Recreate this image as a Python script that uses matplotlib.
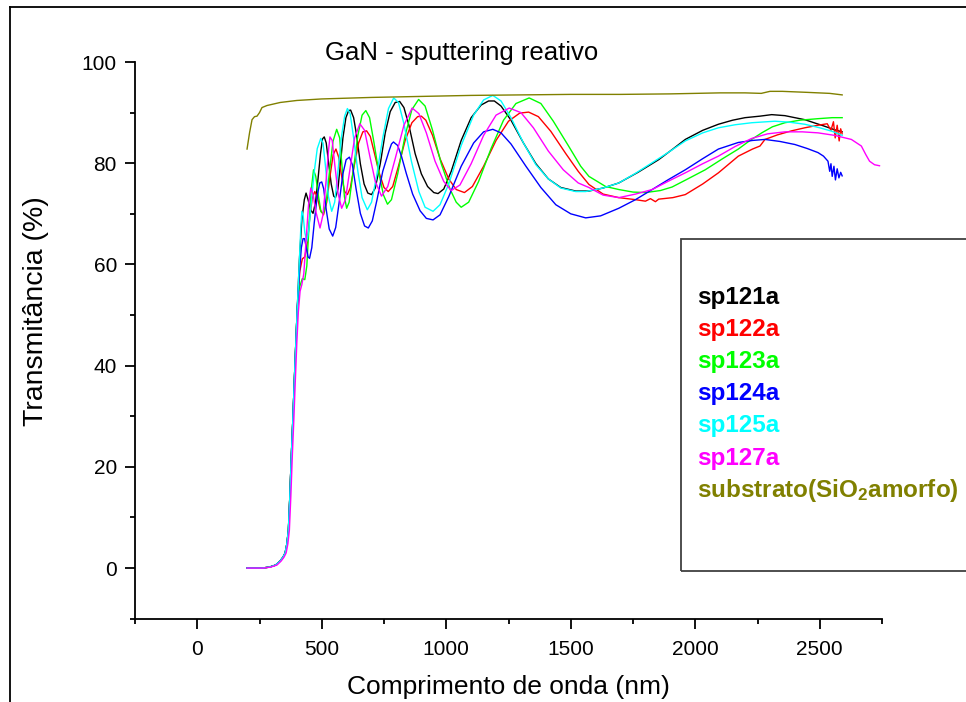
import numpy as np
import matplotlib
matplotlib.use("Agg")
import matplotlib.pyplot as plt
from matplotlib.ticker import MultipleLocator
from matplotlib.patches import Rectangle
from matplotlib.lines import Line2D

plt.rcParams["font.family"] = ["Liberation Sans", "DejaVu Sans"]
plt.rcParams["mathtext.fontset"] = "custom"
plt.rcParams["mathtext.rm"] = "Liberation Sans:bold"
plt.rcParams["mathtext.default"] = "rm"

# absorption edge, shared by the films (wavelength nm, transmittance %)
rise = [(200, 0), (260, 0), (290, 0.2), (315, 0.6), (333, 1.4), (345, 2.2), (353, 3.0),
        (360, 4.8), (366, 7.5), (372, 14.3), (378, 22.4), (384, 29.4), (390, 37.2), (396, 44.6),
        (402, 51.6)]

sp121a = rise + [
    (410, 60.7), (420, 68.8), (430, 72.8), (437, 74.1), (445, 72.8), (455, 70.8), (465, 70.1),
    (475, 72.3), (485, 76.9), (495, 81.9), (503, 84.8), (510, 85.2), (518, 84.0), (528, 79.9),
    (538, 75.9), (548, 73.5), (555, 73.2), (565, 74.9), (575, 79.9), (585, 85.0), (597, 89.0),
    (608, 90.4), (616, 90.5), (628, 89.0), (640, 85.5), (655, 79.9), (670, 75.9), (685, 74.1),
    (700, 73.8), (715, 75.1), (735, 79.9), (755, 86.0), (775, 90.2), (795, 92.0), (813, 92.2),
    (830, 91.0), (850, 87.5), (875, 81.9), (900, 77.9), (925, 75.4), (950, 74.2), (967, 74.0),
    (990, 74.9), (1020, 78.4), (1060, 84.5), (1100, 89.0), (1140, 91.5), (1170, 92.3),
    (1193, 92.3), (1220, 91.3), (1260, 88.5), (1310, 84.0), (1360, 79.9), (1410, 76.9),
    (1460, 75.2), (1520, 74.5), (1573, 74.5), (1630, 75.1), (1693, 76.1), (1770, 78.2),
    (1853, 80.7), (1910, 82.8), (1960, 84.7), (2030, 86.5), (2093, 87.7), (2150, 88.5),
    (2200, 89.0), (2260, 89.3), (2307, 89.6), (2360, 89.4), (2440, 88.6), (2520, 87.3),
    (2560, 86.6), (2590, 86.2)]

sp122a = rise + [
    (412, 58.7), (422, 61.1), (432, 61.5), (442, 64.3), (452, 69.3), (462, 73.2), (472, 74.4),
    (482, 73.4), (494, 70.8), (507, 69.8), (520, 72.3), (533, 77.4), (546, 81.7), (557, 82.8),
    (568, 81.2), (580, 77.4), (592, 74.4), (603, 73.8), (615, 75.2), (630, 79.4), (648, 84.0),
    (665, 86.2), (680, 86.4), (695, 85.3), (712, 81.9), (730, 78.2), (750, 75.2), (767, 74.4),
    (785, 75.4), (808, 79.4), (835, 84.5), (862, 88.0), (885, 89.2), (900, 89.3), (918, 88.5),
    (945, 85.5), (975, 80.9), (1010, 76.9), (1040, 74.8), (1073, 74.2), (1105, 75.4),
    (1150, 79.4), (1200, 84.5), (1250, 88.3), (1295, 89.9), (1331, 90.1), (1370, 89.2),
    (1420, 86.3), (1480, 81.9), (1530, 78.4), (1573, 75.8), (1630, 73.9), (1693, 73.2),
    (1760, 72.8), (1800, 72.5), (1820, 73.0), (1840, 72.4), (1853, 72.9), (1910, 73.2),
    (1960, 73.8), (2030, 75.9), (2093, 78.1), (2173, 81.4), (2230, 82.8), (2260, 83.4),
    (2280, 84.7), (2330, 85.6), (2387, 86.4), (2440, 87.0), (2493, 87.5), (2530, 87.8),
    (2545, 86.5), (2555, 88.2), (2562, 85.0), (2570, 87.5), (2578, 84.4), (2584, 86.8),
    (2590, 85.8)]

sp123a = rise + [
    (412, 55.7), (422, 57.2), (432, 57.0), (440, 59.7), (448, 66.8), (457, 74.4), (467, 78.7),
    (476, 77.4), (487, 73.4), (497, 70.4), (507, 70.1), (518, 72.3), (530, 77.9), (545, 84.3),
    (560, 86.7), (572, 85.0), (583, 78.4), (591, 73.4), (600, 71.1), (610, 72.3), (625, 77.9),
    (645, 85.5), (662, 89.5), (677, 90.4), (692, 89.0), (710, 84.0), (730, 77.9), (748, 73.7),
    (764, 71.9), (780, 72.8), (805, 77.9), (835, 85.5), (862, 90.6), (889, 92.6), (915, 91.3),
    (945, 86.5), (980, 79.9), (1015, 74.9), (1040, 72.3), (1060, 71.3), (1090, 72.3),
    (1130, 76.4), (1180, 82.9), (1230, 88.5), (1280, 91.8), (1333, 92.9), (1380, 91.8),
    (1430, 88.3), (1490, 83.5), (1540, 79.4), (1573, 77.4), (1640, 75.4), (1693, 74.8),
    (1750, 74.3), (1800, 74.2), (1860, 74.6), (1907, 75.3), (1970, 76.9), (2040, 78.7),
    (2110, 80.9), (2173, 82.8), (2220, 84.5), (2267, 86.0), (2310, 87.2), (2360, 88.0),
    (2420, 88.5), (2493, 88.8), (2550, 89.0), (2590, 89.0)]

sp124a = rise + [
    (410, 58.2), (418, 63.3), (425, 65.1), (431, 65.1), (438, 63.3), (445, 61.5), (451, 61.2),
    (460, 63.3), (470, 68.3), (482, 73.7), (492, 76.1), (500, 76.3), (508, 74.9), (518, 70.8),
    (530, 67.0), (544, 65.6), (556, 67.3), (570, 72.3), (585, 77.9), (598, 80.7), (611, 81.2),
    (623, 79.7), (638, 74.9), (655, 70.1), (672, 67.6), (687, 67.2), (703, 68.6), (722, 72.8),
    (745, 78.4), (770, 82.4), (780, 83.8), (788, 84.2), (795, 83.9), (805, 83.5), (820, 81.4),
    (840, 77.9), (865, 73.9), (895, 70.6), (920, 69.1), (947, 68.8), (975, 69.8), (1010, 73.4),
    (1060, 79.4), (1110, 84.0), (1150, 86.2), (1187, 86.7), (1220, 86.0), (1260, 83.8),
    (1320, 79.4), (1380, 75.2), (1440, 71.8), (1500, 70.0), (1560, 69.2), (1620, 69.6),
    (1693, 71.1), (1760, 72.8), (1827, 74.8), (1890, 76.7), (1960, 78.7), (2030, 80.9),
    (2093, 82.8), (2173, 84.1), (2230, 84.5), (2280, 84.7), (2340, 84.3), (2400, 83.7),
    (2450, 82.9), (2493, 82.1), (2515, 81.4), (2533, 80.4), (2540, 78.4), (2545, 79.9),
    (2550, 77.4), (2557, 79.4), (2563, 76.7), (2570, 78.9), (2577, 77.1), (2584, 78.2),
    (2590, 77.5)]

sp125a = rise + [
    (410, 60.7), (416, 67.3), (420, 70.5), (425, 69.8), (432, 66.3), (440, 64.6), (448, 66.8),
    (458, 72.3), (470, 78.4), (482, 82.9), (496, 84.9), (505, 84.0), (515, 79.4), (527, 73.4),
    (540, 70.5), (552, 72.3), (565, 78.4), (580, 85.5), (592, 89.3), (603, 90.8), (614, 89.8),
    (628, 85.0), (645, 78.4), (662, 73.2), (683, 70.8), (700, 72.3), (720, 77.4), (745, 85.0),
    (768, 90.8), (789, 92.9), (808, 92.0), (830, 87.8), (860, 80.4), (890, 74.4), (915, 71.3),
    (947, 70.5), (975, 71.8), (1010, 75.9), (1060, 83.5), (1110, 89.5), (1150, 92.5),
    (1187, 93.4), (1220, 92.3), (1260, 89.0), (1310, 84.0), (1360, 79.7), (1410, 76.9),
    (1460, 75.1), (1520, 74.4), (1560, 74.4), (1630, 75.1), (1693, 76.1), (1760, 78.0),
    (1827, 80.1), (1900, 82.4), (1960, 84.4), (2030, 86.0), (2093, 87.0), (2160, 87.6),
    (2227, 88.0), (2320, 88.3), (2380, 88.1), (2440, 87.7), (2500, 87.0), (2550, 86.3),
    (2590, 85.5)]

sp127a = [
    (200, 0), (265, 0), (295, 0.2), (320, 0.6), (337, 1.4), (349, 2.2), (357, 3.0), (364, 4.8),
    (370, 7.5), (376, 14.3), (382, 22.4), (388, 29.4), (394, 37.2), (400, 44.6), (406, 50.6),
    (413, 54.7), (420, 56.0), (428, 58.2), (437, 64.8), (447, 71.8), (456, 75.1), (465, 73.9),
    (477, 70.3), (493, 67.2), (505, 69.8), (518, 76.9), (528, 82.9), (533, 85.2), (542, 84.5),
    (553, 79.4), (566, 73.9), (580, 71.1), (595, 72.8), (612, 78.4), (632, 85.0), (653, 87.8),
    (672, 86.5), (693, 81.4), (715, 76.4), (740, 73.5), (765, 75.4), (795, 80.9), (830, 87.5),
    (863, 90.9), (890, 89.8), (920, 86.0), (955, 80.4), (990, 76.4), (1020, 74.6), (1055, 75.7),
    (1100, 79.9), (1150, 85.5), (1200, 89.5), (1253, 90.9), (1300, 90.0), (1350, 87.0),
    (1410, 82.4), (1470, 78.7), (1530, 76.1), (1573, 75.2), (1630, 73.7), (1693, 73.2),
    (1760, 73.9), (1827, 74.8), (1890, 76.4), (1960, 78.1), (2030, 79.9), (2093, 81.4),
    (2160, 83.3), (2227, 84.9), (2290, 85.8), (2360, 86.2), (2430, 86.2), (2493, 86.0),
    (2560, 85.5), (2627, 84.7), (2667, 83.4), (2685, 81.7), (2700, 80.4), (2720, 79.7),
    (2740, 79.5)]

substrato = [
    (200, 82.8), (210, 86.0), (220, 88.6), (230, 89.2), (240, 89.3), (250, 90.0), (260, 91.0),
    (280, 91.4), (333, 92.0), (400, 92.4), (500, 92.7), (700, 93.0), (900, 93.2), (1100, 93.4),
    (1300, 93.5), (1500, 93.6), (1700, 93.6), (1900, 93.7), (2100, 93.9), (2200, 93.9),
    (2265, 93.8), (2300, 94.2), (2350, 94.2), (2450, 94.0), (2540, 93.8), (2590, 93.5)]

labels = ["sp121a", "sp122a", "sp123a", "sp124a", "sp125a", "sp127a",
          "substrato(SiO$_2$amorfo)"]
colors = ["#000000", "#ff0000", "#00ff00", "#0000ff", "#00ffff", "#ff00ff", "#808000"]
curves = [sp121a, sp122a, sp123a, sp124a, sp125a, sp127a, substrato]

W, H = 966, 702
fig = plt.figure(figsize=(W / 100, H / 100), dpi=100)
ax = fig.add_axes([135 / W, 1 - 618.7 / H, (882 - 135) / W, (618.7 - 62) / H])

for pts, col in zip(curves, colors):
    arr = np.array(pts, dtype=float)
    ax.plot(arr[:, 0], arr[:, 1], color=col, lw=1.0)

ax.set_xlim(-250, 2750)
ax.set_ylim(-10, 100)
ax.spines["top"].set_visible(False)
ax.spines["right"].set_visible(False)
for s in ("left", "bottom"):
    ax.spines[s].set_linewidth(1.3)
ax.xaxis.set_major_locator(MultipleLocator(500))
ax.xaxis.set_minor_locator(MultipleLocator(250))
ax.yaxis.set_major_locator(MultipleLocator(20))
ax.yaxis.set_minor_locator(MultipleLocator(10))
ax.tick_params(which="major", length=7, width=1.3, direction="out", labelsize=15, pad=6)
ax.tick_params(axis="x", which="major", pad=8)
ax.tick_params(which="minor", length=3.5, width=1.3, direction="out")

fig.text(462 / W, 1 - 53 / H, "GaN - sputtering reativo", fontsize=18.5, ha="center", va="center")
fig.text(508 / W, 1 - 687 / H, "Comprimento de onda (nm)", fontsize=19, ha="center", va="center")
fig.text(36 / W, 1 - 311 / H, "Transmitância (%)", fontsize=20.5, rotation=90,
         ha="center", va="center")

# legend box, drawn by hand like the original
fig.add_artist(Rectangle((681 / W, 1 - 571 / H), (990 - 681) / W, (571 - 239) / H,
                         fill=False, ec="#404040", lw=1.3, transform=fig.transFigure))
for i, (lab, col) in enumerate(zip(labels, colors)):
    fig.text(697 / W, 1 - (297 + i * 32.2) / H, lab, color=col, fontsize=17.5,
             fontweight="bold", ha="left", va="center")

# outer frame
fig.add_artist(Line2D([10 / W, 10 / W], [0, 1 - 7 / H], color="black", lw=1.3,
                      transform=fig.transFigure))
fig.add_artist(Line2D([10 / W, 1], [1 - 7 / H, 1 - 7 / H], color="black", lw=1.3,
                      transform=fig.transFigure))

fig.savefig("out.png", dpi=100)
